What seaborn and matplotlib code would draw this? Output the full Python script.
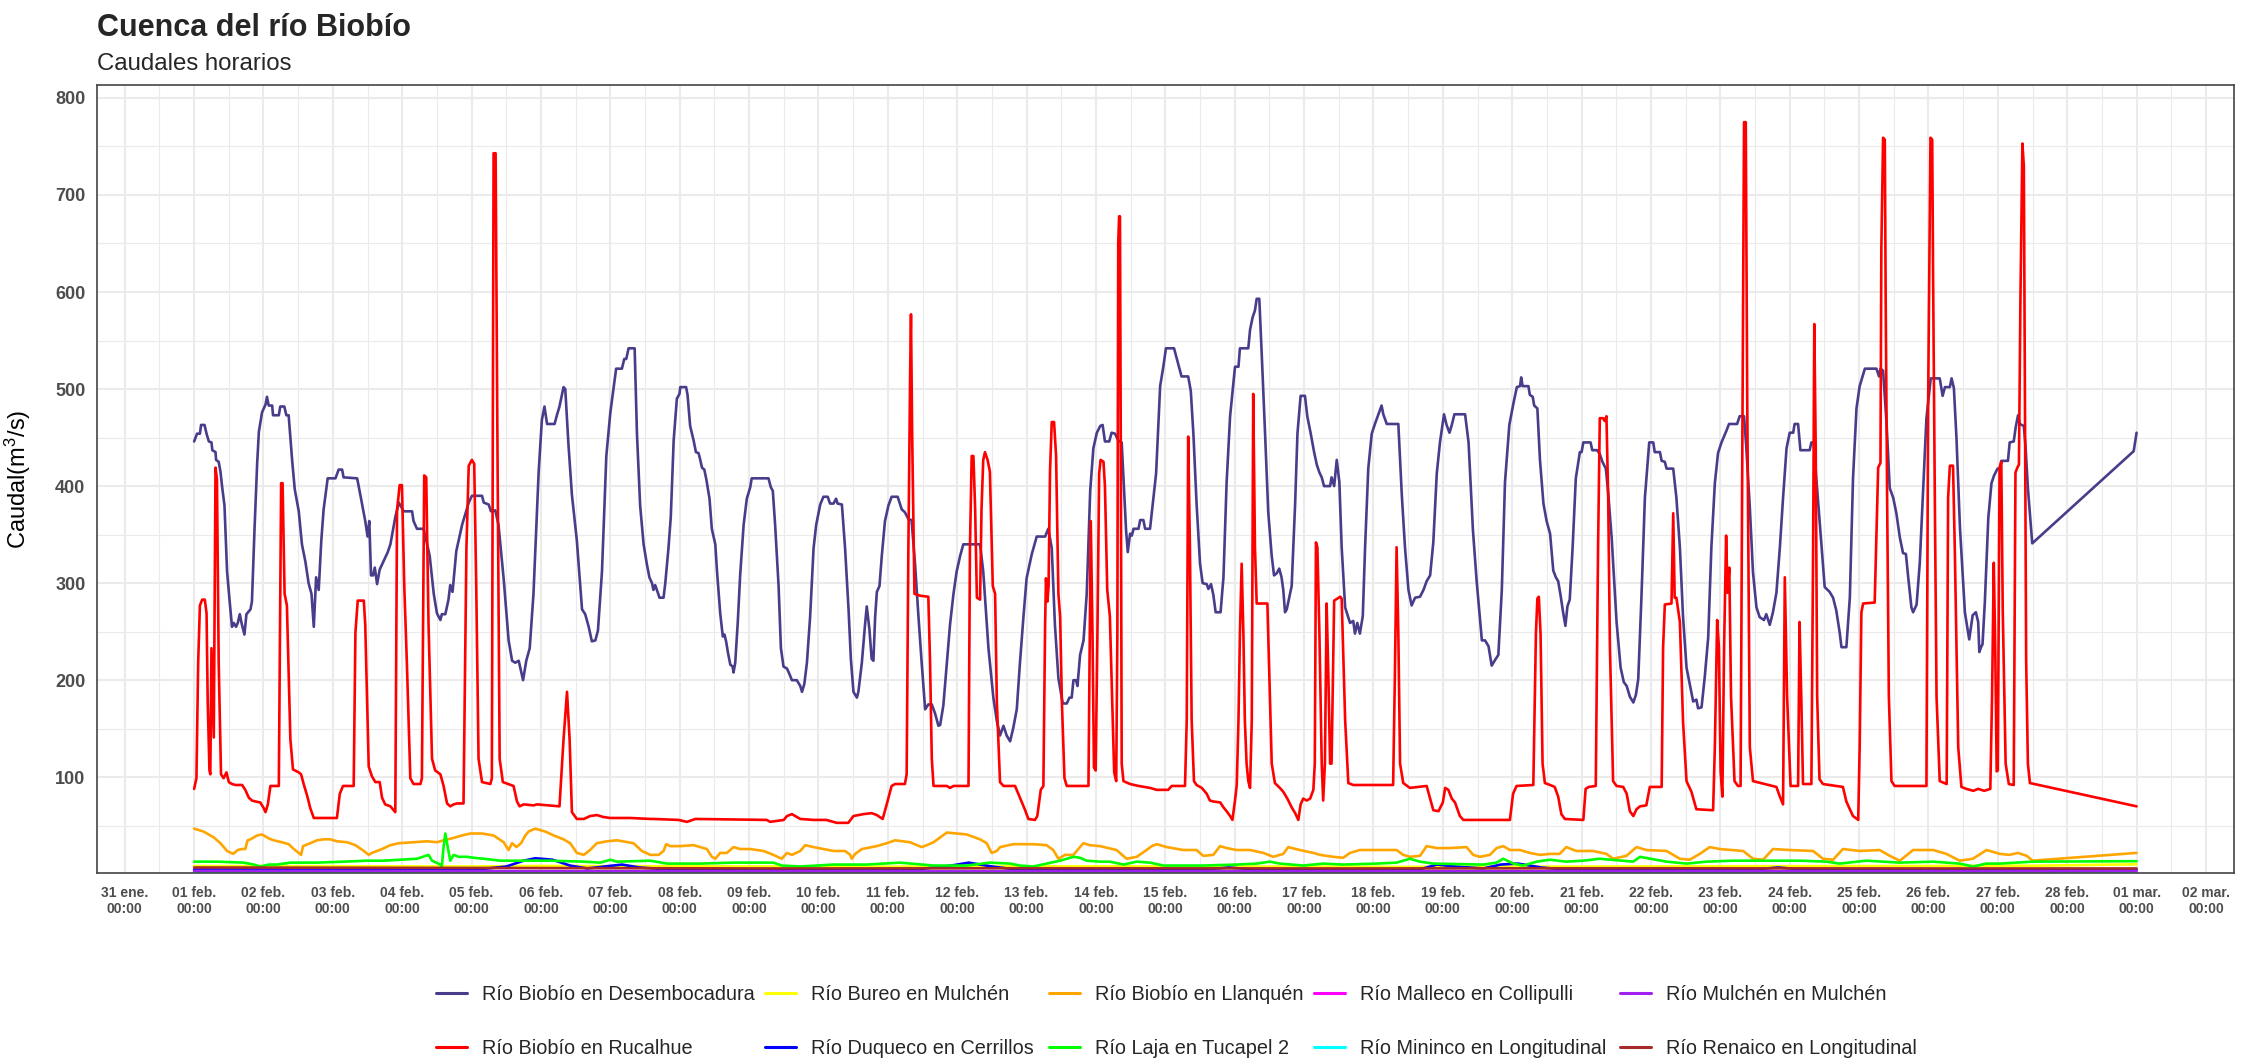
import numpy as np
import pandas as pd
import matplotlib
matplotlib.use("Agg")
import matplotlib.pyplot as plt
import matplotlib.dates as mdates
from matplotlib.lines import Line2D
import seaborn as sns

# ---------------- data (hours since 01 feb 2023 00:00, caudal m3/s) ----------------
desembocadura_pts = [
    (0, 446), (1, 454), (2, 454), (2.4, 463), (3.6, 463), (4.3, 454), (5.1, 446), (6.0, 445), (6.3, 437),
    (7.4, 435), (7.6, 427), (8.5, 425), (9.1, 415), (9.7, 399), (10.5, 380), (11.4, 312), (12.3, 281),
    (13.1, 255), (13.7, 259), (14.5, 255), (15.1, 259), (15.8, 268), (16.4, 259), (17.4, 247), (18.1, 268),
    (19.5, 273), (20.0, 281), (20.9, 356), (21.8, 423), (22.4, 456), (23.5, 476), (24.7, 484), (25.2, 492),
    (25.8, 483), (27.0, 483), (27.3, 473), (29.3, 473), (29.8, 482), (31.2, 482), (31.9, 473), (32.7, 473),
    (33.9, 427), (34.8, 397), (36.2, 374), (37.3, 340), (38.5, 322), (39.6, 300), (40.6, 289), (41.4, 255),
    (42.2, 306), (43.1, 293), (44.0, 344), (44.8, 376), (46.2, 408), (48.9, 408), (50.0, 417), (51.2, 417),
    (51.7, 409), (56.4, 408), (57.5, 391), (59.2, 364), (60.0, 348), (60.6, 364), (61.2, 308), (61.9, 308),
    (62.5, 316), (63.3, 299), (64.2, 314), (65.6, 323), (67.0, 332), (67.9, 340), (69.6, 368), (70.8, 383),
    (72.5, 374), (75.4, 374), (75.9, 364), (77.1, 356), (79.4, 356), (81.5, 328), (82.9, 289), (84.0, 269),
    (85.2, 262), (85.7, 268), (86.9, 268), (88.0, 283), (88.6, 298), (89.4, 291), (90.7, 333), (92.7, 360),
    (95.0, 383), (96.1, 390), (99.6, 390), (100.2, 383), (101.9, 381), (102.7, 374), (104.2, 375),
    (105.3, 360), (107.1, 304), (108.8, 241), (110.0, 220), (111.1, 218), (112.3, 220), (113.8, 200),
    (114.9, 220), (116.1, 233), (117.4, 289), (119.2, 415), (120.3, 468), (121.2, 482), (122.1, 464),
    (124.7, 464), (125.5, 473), (126.4, 482), (127.8, 502), (128.4, 500), (129.5, 443), (130.7, 391),
    (132.4, 344), (134.2, 273), (135.3, 268), (136.5, 255), (137.6, 240), (138.8, 241), (139.7, 251),
    (141.1, 312), (142.6, 431), (144.0, 476), (146.0, 521), (148.0, 521), (148.8, 531), (149.5, 531),
    (150.3, 542), (152.4, 542), (153.2, 454), (154.3, 380), (155.5, 340), (156.6, 320), (157.5, 306),
    (158.4, 300), (158.9, 293), (159.5, 298), (160.1, 293), (161.0, 285), (162.4, 285), (163.0, 300),
    (164.1, 336), (164.9, 368), (165.9, 447), (167.0, 490), (167.9, 495), (168.2, 502), (170.2, 502),
    (170.7, 494), (171.6, 462), (172.8, 447), (173.6, 435), (174.5, 434), (175.1, 427), (175.7, 419),
    (176.5, 417), (177.2, 407), (178.3, 387), (179.1, 356), (180.3, 340), (180.9, 312), (182.0, 269),
    (182.9, 245), (183.5, 247), (184.1, 239), (184.7, 228), (185.5, 216), (186.3, 214), (186.6, 208),
    (187.2, 218), (188.1, 261), (188.9, 308), (190.1, 360), (191.2, 387), (192.4, 399), (192.9, 408),
    (198.7, 408), (199.5, 399), (200.2, 395), (201.0, 360), (202.2, 297), (203.0, 233), (203.9, 214),
    (205.1, 212), (206.0, 206), (206.8, 200), (208.5, 200), (209.7, 194), (210.3, 188), (211.1, 196),
    (212.0, 218), (213.1, 265), (214.3, 336), (215.2, 360), (216.6, 381), (217.7, 389), (219.2, 389),
    (220.0, 382), (221.2, 382), (222.1, 387), (222.6, 382), (224.1, 381), (225.2, 336), (226.4, 273),
    (227.2, 222), (228.1, 188), (229.3, 182), (229.8, 188), (231.0, 218), (232.1, 257), (232.7, 276),
    (233.6, 253), (234.4, 222), (235.0, 220), (235.6, 265), (236.2, 291), (237.1, 297), (237.9, 328),
    (239.0, 364), (240.2, 380), (241.3, 389), (243.4, 389), (244.8, 376), (245.9, 373), (247.1, 366),
    (248.2, 365), (249.4, 320), (250.6, 265), (251.7, 218), (252.9, 170), (254.0, 175), (255.2, 175),
    (256.3, 166), (257.5, 153), (258.1, 154), (259.2, 174), (260.4, 218), (261.5, 257), (262.7, 289),
    (263.8, 312), (265.0, 328), (266.1, 340), (271.9, 340), (273.0, 312), (274.8, 233), (276.5, 182),
    (277.7, 158), (278.8, 143), (280.0, 153), (281.1, 143), (282.3, 137), (283.4, 151), (284.6, 170),
    (285.7, 218), (286.9, 265), (288.0, 305), (289.8, 330), (291.5, 348), (294.4, 348), (295.5, 356),
    (296.7, 336), (297.8, 257), (299.0, 202), (300.5, 176), (301.9, 176), (302.8, 182), (303.6, 182),
    (304.2, 200), (305.1, 200), (305.6, 194), (306.5, 226), (307.7, 241), (308.8, 289), (310.0, 395),
    (311.1, 439), (312.3, 455), (313.5, 462), (314.3, 463), (315.1, 446), (316.6, 446), (317.4, 455),
    (318.6, 454), (319.7, 447), (320.9, 445), (321.5, 409), (322.4, 355), (323.0, 332), (323.8, 351),
    (324.4, 349), (325.0, 356), (326.7, 356), (327.3, 365), (328.4, 365), (329.0, 356), (330.7, 356),
    (331.6, 380), (332.8, 413), (334.2, 503), (335.3, 523), (336.2, 542), (339.0, 542), (339.9, 532),
    (340.8, 522), (341.6, 513), (343.9, 513), (344.8, 498), (345.7, 454), (346.8, 382), (348.0, 320),
    (348.9, 300), (350.3, 299), (350.9, 294), (351.8, 299), (352.6, 288), (353.4, 270), (355.1, 270),
    (356.1, 306), (357.2, 404), (358.4, 472), (360.1, 523), (361.3, 523), (361.8, 542), (364.7, 542),
    (365.3, 561), (366.2, 574), (367.0, 581), (367.6, 593), (368.5, 593), (369.3, 539), (370.5, 454),
    (371.6, 373), (372.8, 328), (373.6, 308), (374.5, 310), (375.4, 315), (376.2, 306), (376.8, 293),
    (377.4, 270), (378.0, 273), (378.9, 286), (379.7, 297), (380.9, 382), (381.7, 454), (382.8, 493),
    (384.3, 493), (385.1, 472), (386.3, 454), (387.4, 436), (388.4, 422), (389.3, 414), (390.1, 409),
    (390.9, 400), (393.0, 400), (393.5, 409), (394.4, 400), (395.3, 427), (396.2, 404), (397.0, 337),
    (398.2, 275), (399.9, 259), (401.0, 261), (401.6, 248), (402.4, 259), (403.3, 248), (404.3, 266),
    (405.1, 337), (406.2, 418), (407.4, 454), (408.5, 464), (409.7, 474), (410.8, 483), (411.4, 474),
    (412.6, 464), (416.6, 464), (417.8, 391), (418.9, 337), (420.1, 293), (421.2, 277), (422.4, 285),
    (424.1, 286), (425.3, 293), (426.4, 302), (427.6, 308), (428.7, 342), (429.9, 413), (431.0, 445),
    (432.4, 474), (433.3, 463), (434.3, 455), (435.1, 463), (436.0, 474), (439.7, 474), (440.9, 445),
    (442.4, 355), (443.7, 302), (445.5, 241), (446.6, 241), (447.8, 235), (448.9, 215), (450.1, 221),
    (451.2, 226), (452.4, 293), (453.5, 404), (455.0, 463), (456.4, 485), (457.6, 502), (458.7, 503),
    (459.1, 512), (459.6, 503), (461.6, 503), (462.1, 494), (463.1, 492), (463.6, 483), (464.7, 480),
    (465.6, 427), (466.8, 382), (467.9, 364), (469.1, 351), (470.2, 313), (471.1, 306), (471.9, 302),
    (472.7, 288), (473.6, 270), (474.4, 256), (475.1, 276), (475.9, 283), (476.9, 337), (478.0, 408),
    (479.4, 435), (480.0, 435), (480.6, 445), (483.1, 445), (483.7, 437), (485.4, 437), (486.3, 433),
    (487.2, 425), (488.4, 418), (489.2, 393), (490.4, 347), (492.1, 260), (493.5, 213), (494.6, 198),
    (495.6, 194), (496.7, 183), (497.9, 177), (498.8, 185), (499.6, 201), (500.7, 285), (501.9, 388),
    (503.4, 445), (504.8, 445), (505.3, 435), (507.1, 435), (507.7, 426), (508.8, 425), (509.4, 418),
    (511.7, 418), (512.8, 388), (514.0, 337), (515.1, 265), (516.3, 213), (517.4, 196), (518.6, 178),
    (519.7, 180), (520.3, 171), (521.5, 172), (522.6, 203), (523.8, 244), (524.9, 337), (526.1, 403),
    (527.2, 434), (528.4, 445), (530.1, 457), (531.0, 464), (533.8, 464), (534.7, 472), (536.2, 472),
    (537.0, 439), (538.2, 378), (539.3, 311), (540.5, 275), (541.6, 265), (543.1, 262), (543.9, 268),
    (545.1, 257), (546.2, 270), (547.4, 290), (548.6, 337), (549.7, 388), (550.9, 439), (552.0, 455),
    (553.2, 455), (553.7, 464), (554.9, 464), (555.7, 437), (558.9, 437), (559.5, 445), (560.3, 445),
    (561.2, 408), (562.4, 362), (564.1, 296), (565.8, 291), (567.0, 285), (568.1, 272), (569.3, 249),
    (569.9, 234), (571.6, 234), (572.8, 285), (573.9, 408), (575.1, 480), (576.2, 503), (578.0, 521),
    (582.0, 521), (582.9, 513), (583.4, 521), (584.3, 519), (585.5, 465), (586.6, 398), (587.8, 388),
    (588.9, 372), (590.1, 347), (591.2, 331), (592.2, 330), (593.0, 306), (594.1, 275), (594.7, 270),
    (595.9, 278), (597.0, 321), (598.2, 398), (599.3, 470), (600.8, 511), (603.9, 511), (604.9, 493),
    (605.7, 502), (607.4, 502), (608.0, 511), (608.8, 501), (609.7, 449), (610.9, 357), (612.6, 270),
    (614.1, 242), (615.3, 267), (616.4, 270), (617.2, 260), (617.6, 229), (618.2, 234), (618.7, 237),
    (619.5, 280), (620.7, 367), (621.8, 403), (622.7, 411), (623.9, 418), (624.7, 418), (625.2, 426),
    (627.5, 426), (628.1, 445), (629.5, 446), (630.2, 461), (631.0, 473), (631.6, 464), (633.0, 462),
    (633.6, 440), (634.4, 398), (635.9, 341), (671.0, 436), (672.0, 455),
]

rucalhue_pts = [
    (0, 88), (0.8, 99), (1.4, 218), (2.0, 277), (2.8, 283), (3.7, 283), (4.3, 269), (4.7, 178), (5.3, 107),
    (5.6, 103), (6.0, 233), (6.8, 141), (7.4, 419), (7.9, 407), (8.5, 218), (9.3, 103), (10.2, 99),
    (11.2, 105), (12.0, 95), (13.1, 93), (14.3, 92), (16.6, 92), (17.7, 87), (18.9, 79), (20.0, 76),
    (21.2, 75), (22.9, 74), (24.1, 68), (24.7, 64), (25.5, 72), (26.4, 91), (29.3, 91), (30.1, 403),
    (30.6, 403), (31.3, 289), (32.1, 277), (33.3, 139), (34.2, 108), (36.2, 105), (37.0, 103), (37.9, 93),
    (39.1, 81), (40.2, 68), (41.4, 58), (49.4, 58), (50.4, 83), (51.5, 91), (55.2, 91), (55.8, 249),
    (56.6, 282), (58.7, 282), (59.2, 257), (60.4, 111), (61.5, 101), (62.7, 95), (64.2, 95), (65.0, 79),
    (66.1, 72), (67.9, 70), (69.6, 64), (70.2, 375), (71.1, 401), (71.9, 401), (72.7, 297), (73.6, 218),
    (74.8, 99), (75.9, 93), (78.3, 93), (78.8, 99), (79.6, 411), (80.3, 409), (81.1, 257), (82.3, 119),
    (83.4, 107), (85.2, 103), (86.3, 91), (87.5, 73), (88.6, 70), (89.8, 72), (90.9, 73), (93.2, 73),
    (94.2, 336), (95.0, 421), (96.1, 427), (96.9, 423), (97.6, 297), (98.4, 119), (99.6, 95), (102.5, 93),
    (103.0, 99), (103.6, 743), (104.3, 743), (105.0, 415), (105.7, 119), (106.8, 95), (110.5, 91),
    (111.7, 75), (112.6, 70), (114.0, 72), (117.4, 71), (118.6, 72), (126.4, 70), (127.8, 139), (129.0, 188),
    (129.9, 139), (130.7, 64), (132.4, 57), (134.8, 57), (137.0, 60), (139.3, 61), (141.6, 59), (143.9, 58),
    (150.9, 58), (157.8, 57), (158.9, 57), (167.6, 56), (170.5, 54), (173.4, 57), (198.1, 56), (199.3, 54),
    (204.0, 56), (205.1, 60), (206.8, 62), (209.7, 57), (214.3, 56), (218.7, 56), (222.3, 53), (226.3, 53),
    (228.1, 60), (231.6, 62), (234.4, 63), (236.2, 61), (238.2, 57), (239.6, 72), (241.3, 91), (242.5, 93),
    (245.9, 93), (246.5, 103), (247.1, 336), (247.7, 514), (248.0, 577), (248.4, 455), (249.2, 289),
    (251.2, 287), (254.0, 286), (254.6, 218), (255.2, 119), (255.8, 91), (260.4, 91), (261.5, 89),
    (262.7, 91), (267.9, 91), (268.4, 336), (269.0, 431), (269.6, 431), (270.2, 376), (270.8, 285),
    (271.9, 283), (272.4, 376), (273.0, 427), (273.6, 435), (274.5, 427), (275.3, 415), (276.3, 297),
    (277.1, 289), (277.7, 178), (278.8, 95), (280.0, 91), (284.0, 91), (285.7, 79), (287.5, 66),
    (288.6, 57), (290.9, 56), (291.7, 60), (292.9, 87), (293.8, 91), (294.4, 257), (294.7, 305),
    (295.2, 281), (295.6, 297), (296.1, 415), (296.7, 466), (297.5, 466), (298.2, 431), (299.0, 289),
    (299.6, 265), (300.2, 178), (301.1, 99), (301.9, 91), (309.4, 91), (310.2, 364), (310.8, 248),
    (311.3, 110), (311.9, 107), (312.5, 248), (313.1, 413), (313.6, 427), (314.6, 425), (315.1, 400),
    (315.9, 293), (316.8, 266), (317.6, 181), (318.3, 105), (319.0, 96), (319.4, 248), (319.7, 650),
    (320.0, 678), (320.3, 678), (320.6, 427), (320.9, 114), (321.5, 96), (323.8, 93), (326.7, 91),
    (330.7, 89), (333.0, 87), (337.0, 87), (338.2, 91), (342.8, 91), (343.4, 159), (343.9, 451),
    (344.5, 337), (345.1, 159), (345.9, 96), (346.8, 92), (348.6, 89), (350.3, 83), (351.4, 76),
    (352.6, 75), (355.0, 74), (356.1, 69), (357.2, 65), (358.4, 60), (359.2, 56), (360.1, 76), (360.7, 92),
    (361.3, 159), (361.8, 248), (362.4, 320), (363.0, 248), (363.5, 159), (364.1, 114), (364.7, 96),
    (365.3, 89), (365.9, 159), (366.4, 495), (367.0, 337), (367.6, 279), (371.3, 279), (372.0, 203),
    (372.8, 114), (373.9, 94), (375.6, 89), (376.8, 85), (378.2, 78), (379.7, 69), (380.9, 63), (382.0, 56),
    (382.8, 72), (383.7, 78), (384.9, 76), (386.1, 78), (387.2, 87), (387.7, 114), (388.1, 342),
    (388.6, 337), (389.3, 248), (390.1, 114), (390.6, 76), (391.2, 114), (391.8, 279), (392.4, 203),
    (393.0, 114), (393.5, 114), (394.4, 282), (396.5, 286), (397.0, 284), (398.2, 159), (399.3, 94),
    (401.0, 92), (414.8, 92), (415.4, 203), (416.0, 337), (416.6, 248), (417.2, 114), (418.3, 94),
    (420.6, 89), (426.4, 91), (427.6, 78), (428.7, 66), (430.5, 65), (432.0, 74), (432.8, 89), (433.9, 87),
    (435.1, 78), (436.2, 74), (437.9, 60), (439.1, 56), (455.2, 56), (456.3, 83), (457.5, 91), (463.3, 92),
    (464.2, 248), (464.7, 284), (465.2, 286), (465.8, 248), (466.5, 114), (467.3, 94), (469.1, 92),
    (470.7, 90), (471.9, 80), (473.0, 62), (474.2, 57), (480.6, 56), (481.4, 88), (482.5, 90), (484.9, 91),
    (485.7, 337), (486.3, 470), (487.4, 470), (488.0, 467), (488.6, 472), (489.2, 388), (489.8, 234),
    (490.9, 96), (492.1, 91), (494.4, 90), (495.6, 83), (496.7, 65), (497.9, 60), (499.0, 67), (500.2, 70),
    (502.4, 71), (503.6, 90), (507.7, 90), (508.2, 234), (508.8, 278), (511.1, 279), (511.7, 372),
    (512.2, 285), (512.8, 285), (514.0, 260), (515.1, 157), (516.3, 96), (518.0, 85), (519.7, 67),
    (525.5, 66), (526.1, 131), (526.9, 262), (527.5, 234), (528.1, 106), (528.7, 80), (529.3, 234),
    (530.0, 349), (530.5, 290), (531.1, 316), (531.7, 183), (532.9, 96), (534.1, 91), (535.0, 91),
    (535.7, 490), (536.2, 775), (536.8, 775), (537.3, 490), (538.2, 131), (539.3, 96), (547.4, 90),
    (548.6, 80), (549.7, 72), (550.0, 183), (550.3, 306), (551.1, 183), (552.3, 91), (554.9, 91),
    (555.4, 260), (556.0, 183), (556.6, 93), (559.5, 93), (560.1, 337), (560.5, 567), (561.0, 439),
    (561.5, 183), (562.3, 98), (563.5, 93), (570.4, 90), (571.6, 75), (572.8, 67), (573.9, 60), (575.7, 56),
    (576.2, 131), (576.8, 270), (577.4, 279), (581.4, 280), (582.6, 419), (583.4, 424), (583.7, 644),
    (584.3, 759), (584.9, 757), (585.2, 593), (585.7, 388), (586.3, 183), (587.2, 96), (588.3, 91),
    (599.3, 91), (599.9, 490), (600.7, 759), (601.3, 757), (601.6, 618), (602.2, 388), (602.8, 183),
    (603.9, 96), (606.3, 93), (606.8, 388), (607.4, 421), (608.5, 421), (609.1, 337), (610.3, 131),
    (611.4, 90), (613.1, 88), (615.5, 86), (617.2, 88), (619.3, 86), (621.4, 88), (622.0, 183), (622.6, 321),
    (623.1, 234), (623.6, 106), (624.0, 107), (624.6, 419), (625.2, 425), (625.7, 272), (626.7, 114),
    (627.8, 93), (629.5, 92), (630.1, 414), (630.9, 420), (631.3, 422), (631.8, 588), (632.5, 753),
    (633.0, 730), (633.3, 535), (633.8, 220), (634.4, 114), (635.1, 94), (672.0, 70),
]

llanquen_pts = [
    (0, 47), (3.3, 44), (6.8, 38), (9.1, 32), (11.4, 24), (13.5, 21), (15.1, 25), (16.6, 26), (17.7, 26),
    (18.5, 35), (19.5, 36), (21.8, 40), (23.5, 41), (25.8, 37), (27.5, 35), (30.4, 33), (32.7, 31),
    (34.5, 26), (36.2, 22), (37.0, 20), (37.7, 29), (38.5, 30), (40.2, 32), (42.5, 35), (44.8, 36),
    (47.1, 36), (49.4, 34), (52.9, 33), (55.8, 30), (58.7, 24), (60.4, 20), (61.5, 22), (63.3, 24),
    (65.0, 26), (67.9, 30), (70.8, 32), (75.9, 33), (80.6, 34), (84.0, 33), (86.3, 35), (89.2, 37),
    (92.7, 40), (95.5, 42), (99.6, 42), (103.6, 40), (107.1, 33), (108.8, 25), (110.0, 32), (111.5, 28),
    (113.1, 32), (114.6, 40), (115.7, 44), (118.0, 47), (119.2, 46), (121.5, 44), (124.4, 40), (127.8, 36),
    (130.1, 32), (132.4, 22), (134.8, 20), (137.0, 25), (139.3, 32), (142.8, 34), (146.3, 35), (152.0, 32),
    (154.9, 24), (157.8, 20), (160.7, 20), (162.4, 24), (163.3, 31), (164.7, 29), (168.2, 29), (172.8, 30),
    (177.4, 26), (179.1, 18), (180.3, 16), (182.0, 22), (184.3, 22), (186.6, 28), (188.9, 26), (192.4, 26),
    (197.0, 24), (200.4, 20), (203.3, 16), (205.1, 22), (206.8, 20), (209.7, 24), (211.4, 30), (214.3, 28),
    (221.2, 24), (225.2, 24), (227.0, 20), (227.5, 16), (228.7, 21), (231.0, 26), (236.2, 29), (239.6, 32),
    (242.5, 35), (247.7, 33), (251.7, 28), (253.5, 30), (255.8, 33), (258.1, 38), (260.4, 43), (263.8, 42),
    (267.3, 41), (271.9, 36), (274.2, 32), (275.9, 22), (277.7, 24), (278.8, 28), (283.4, 31), (290.3, 31),
    (294.9, 30), (297.2, 25), (299.0, 16), (301.3, 20), (304.2, 20), (307.6, 32), (309.9, 30), (313.4, 29),
    (319.1, 25), (322.6, 16), (326.1, 18), (329.5, 25), (331.3, 29), (333.0, 31), (336.5, 28), (342.2, 25),
    (346.8, 25), (349.1, 19), (352.6, 20), (354.9, 29), (357.2, 27), (360.6, 25), (365.3, 25), (369.9, 22),
    (373.3, 18), (376.8, 21), (378.5, 28), (382.5, 25), (387.2, 22), (389.5, 20), (394.1, 18), (397.5, 17),
    (399.9, 22), (403.3, 25), (409.1, 25), (416.0, 25), (418.3, 20), (420.6, 18), (424.1, 19), (426.4, 29),
    (429.9, 27), (434.4, 27), (440.2, 28), (442.5, 20), (444.8, 18), (448.3, 20), (450.6, 27), (452.9, 29),
    (455.2, 25), (458.7, 25), (462.1, 22), (465.6, 20), (469.1, 21), (472.4, 21), (474.7, 28), (478.2, 24),
    (484.0, 24), (488.6, 21), (490.9, 16), (495.5, 19), (499.0, 28), (502.4, 25), (509.4, 24), (514.0, 16),
    (517.4, 15), (520.9, 21), (524.3, 28), (527.8, 26), (535.9, 24), (539.3, 16), (542.8, 15), (546.2, 26),
    (552.0, 25), (560.1, 24), (563.5, 16), (567.0, 15), (570.4, 26), (576.2, 24), (583.1, 25), (586.6, 19),
    (590.1, 14), (594.7, 25), (601.6, 25), (606.2, 21), (610.8, 14), (615.4, 16), (620.1, 25), (624.7, 21),
    (628.0, 20), (631.0, 22), (634.0, 19), (636.0, 14), (672.0, 22),
]

laja_pts = [
    (0, 13), (7.9, 13), (17.2, 12), (20.6, 10), (22.9, 8), (25.8, 10), (28.7, 10), (33.3, 12), (42.5, 12),
    (51.7, 13), (59.8, 14), (65.6, 14), (77.1, 16), (81.1, 20), (82.3, 14), (85.2, 10), (85.7, 8),
    (86.3, 28), (86.9, 42), (87.5, 32), (88.6, 14), (89.8, 20), (91.5, 18), (94.4, 18), (96.7, 17),
    (100.2, 16), (105.9, 14), (111.7, 14), (123.2, 14), (134.8, 13), (140.5, 12), (144.0, 15), (146.3, 13),
    (157.8, 14), (163.6, 11), (175.1, 11), (186.6, 12), (200.4, 12), (203.3, 9), (209.7, 8), (221.2, 10),
    (232.7, 10), (244.2, 12), (255.8, 9), (267.3, 9), (275.3, 12), (282.3, 11), (285.7, 9), (290.3, 8),
    (299.6, 14), (304.2, 18), (306.5, 17), (308.8, 14), (313.4, 13), (316.8, 13), (321.5, 10), (326.1, 13),
    (330.7, 12), (335.3, 9), (349.1, 9), (360.6, 10), (367.6, 11), (372.2, 13), (375.6, 11), (383.7, 9),
    (390.6, 11), (397.5, 10), (409.1, 11), (416.0, 12), (420.6, 16), (424.1, 13), (428.7, 11), (446.0, 10),
    (450.6, 12), (452.9, 16), (456.4, 11), (459.8, 9), (464.5, 13), (469.1, 15), (474.7, 13), (480.6, 14),
    (486.3, 16), (497.9, 13), (500.2, 18), (509.4, 13), (516.3, 11), (523.2, 13), (532.4, 14), (543.9, 14),
    (555.5, 14), (564.7, 13), (569.3, 11), (578.5, 14), (590.1, 12), (601.6, 13), (610.8, 11), (615.4, 8),
    (620.1, 11), (624.7, 11), (636.0, 13), (672.0, 13.5),
]

bureo_pts = [(0, 8.5), (48, 8.3), (96, 8.0), (120, 8.6), (168, 8.2), (240, 7.8), (300, 8.2), (360, 8.0),
             (420, 7.6), (480, 7.9), (540, 8.3), (600, 8.5), (636, 8.8), (672, 10.3)]

duqueco_pts = [(0, 5), (60, 5), (100, 5.5), (108, 8), (114, 14), (118, 16.5), (124, 15), (130, 9), (136, 6),
               (142, 8), (148, 10), (154, 7), (164, 5), (250, 5), (262, 9), (268, 12), (276, 8), (284, 5),
               (350, 5), (358, 7), (366, 5), (424, 5), (430, 10), (436, 8), (446, 6), (452, 10), (458, 11),
               (466, 7), (474, 5), (540, 5), (548, 7), (556, 5), (636, 5), (672, 5)]

renaico_pts = [(0, 7), (100, 6.5), (200, 6), (300, 6.2), (400, 6), (500, 6.2), (600, 6), (636, 6), (672, 6)]
mulchen_pts = [(0, 3.5), (120, 3.2), (240, 3), (360, 3), (480, 3.2), (600, 3), (636, 3), (672, 3.5)]
malleco_pts = [(0, 2.5), (100, 2.2), (200, 2), (300, 2), (400, 2), (500, 2.2), (600, 2), (672, 2)]
mininco_pts = [(0, 1.5), (200, 1.4), (400, 1.3), (600, 1.4), (672, 1.5)]

series_names = [
    "Río Biobío en Desembocadura", "Río Biobío en Rucalhue",
    "Río Bureo en Mulchén", "Río Duqueco en Cerrillos",
    "Río Biobío en Llanquén", "Río Laja en Tucapel 2",
    "Río Malleco en Collipulli", "Río Mininco en Longitudinal",
    "Río Mulchén en Mulchén", "Río Renaico en Longitudinal",
]
series_points = [
    desembocadura_pts, rucalhue_pts, bureo_pts, duqueco_pts, llanquen_pts,
    laja_pts, malleco_pts, mininco_pts, mulchen_pts, renaico_pts,
]
series_colors = [
    "#483D8B", "#FF0000", "#FFFF00", "#0000FF", "#FFA500",
    "#00FF00", "#FF00FF", "#00FFFF", "#A020F0", "#A52A2A",
]
meses = {1: "ene", 2: "feb", 3: "mar"}

# ---------------- build frame ----------------
t0 = pd.Timestamp("2023-02-01 00:00")
frames = []
for name, pts in zip(series_names, series_points):
    h, q = zip(*pts)
    frames.append(pd.DataFrame({
        "fecha": t0 + pd.to_timedelta(np.asarray(h, float), unit="h"),
        "caudal": np.asarray(q, float),
        "estacion": name,
    }))
df = pd.concat(frames, ignore_index=True)

# ---------------- style ----------------
sns.set_style("white")
plt.rcParams['font.family'] = ['Liberation Sans', 'DejaVu Sans']
plt.rcParams['mathtext.fontset'] = 'custom'
plt.rcParams['mathtext.rm'] = 'Liberation Sans'
plt.rcParams['mathtext.it'] = 'Liberation Sans:italic'

W, H = 2252, 1059
fig = plt.figure(figsize=(W / 100, H / 100), dpi=100)
left, right, top, bottom = 97, 2233.7, 85.3, 873.3
ax = fig.add_axes([left / W, 1 - bottom / H, (right - left) / W, (bottom - top) / H])

palette = dict(zip(series_names, series_colors))
sns.lineplot(data=df, x="fecha", y="caudal", hue="estacion", hue_order=series_names,
             palette=palette, estimator=None, sort=False, linewidth=1.9, ax=ax, legend=False)

# axes limits and ticks
x0 = mdates.date2num(t0)
ax.set_xlim(x0 - 1.4, x0 + 29.4)
ax.set_ylim(1, 813)
major_days = pd.date_range("2023-01-31", "2023-03-02", freq="D")
ax.set_xticks(mdates.date2num(major_days))
ax.set_xticklabels([f"{d.day:02d} {meses[d.month]}.\n00:00" for d in major_days], linespacing=1.25)
minor_days = pd.date_range("2023-01-31 12:00", "2023-03-01 12:00", freq="D")
ax.set_xticks(mdates.date2num(minor_days), minor=True)
ax.set_yticks(np.arange(100, 801, 100))
ax.set_yticks(np.arange(50, 801, 100), minor=True)

ax.grid(which="major", color="#EBEBEB", linewidth=1.5)
ax.grid(which="minor", color="#EBEBEB", linewidth=0.8)
ax.set_axisbelow(True)
for sp in ax.spines.values():
    sp.set_visible(True)
    sp.set_color("#444444")
    sp.set_linewidth(1.2)

ax.tick_params(axis="y", which="major", length=4.3, width=1.2, color="#444444", pad=4,
               labelsize=13, labelcolor="#4D4D4D")
ax.tick_params(axis="x", which="major", length=4.3, width=1.2, color="#444444", pad=4.5,
               labelsize=10, labelcolor="#4D4D4D")
ax.tick_params(which="minor", length=0)
for lab in ax.get_xticklabels() + ax.get_yticklabels():
    lab.set_fontweight("bold")

ax.set_xlabel("")
ax.set_ylabel("Caudal(m$^{3}$/s)", fontsize=17, color="black")
ax.yaxis.set_label_coords(-0.030, 0.5)

fig.text(left / W, 1 - 36 / H, "Cuenca del río Biobío", fontsize=22, fontweight="bold",
         va="baseline", ha="left")
fig.text(left / W, 1 - 70 / H, "Caudales horarios", fontsize=17.3, va="baseline", ha="left")

# legend: five columns of two entries each, placed at the reference column positions
legend_cols_x = [436, 765, 1049, 1314, 1620]
for i, xk in enumerate(legend_cols_x):
    idx = [2 * i, 2 * i + 1]
    handles = [Line2D([], [], color=series_colors[j], linewidth=2.2) for j in idx]
    labels = [series_names[j] for j in idx]
    fig.legend(handles, labels, ncol=1, loc="center left", bbox_to_anchor=(xk / W, 1 - 1021.7 / H),
               frameon=False, fontsize=14.3, handlelength=1.54, handletextpad=0.76,
               labelspacing=1.75, borderpad=0, borderaxespad=0)

fig.savefig("out.png", dpi=100)
